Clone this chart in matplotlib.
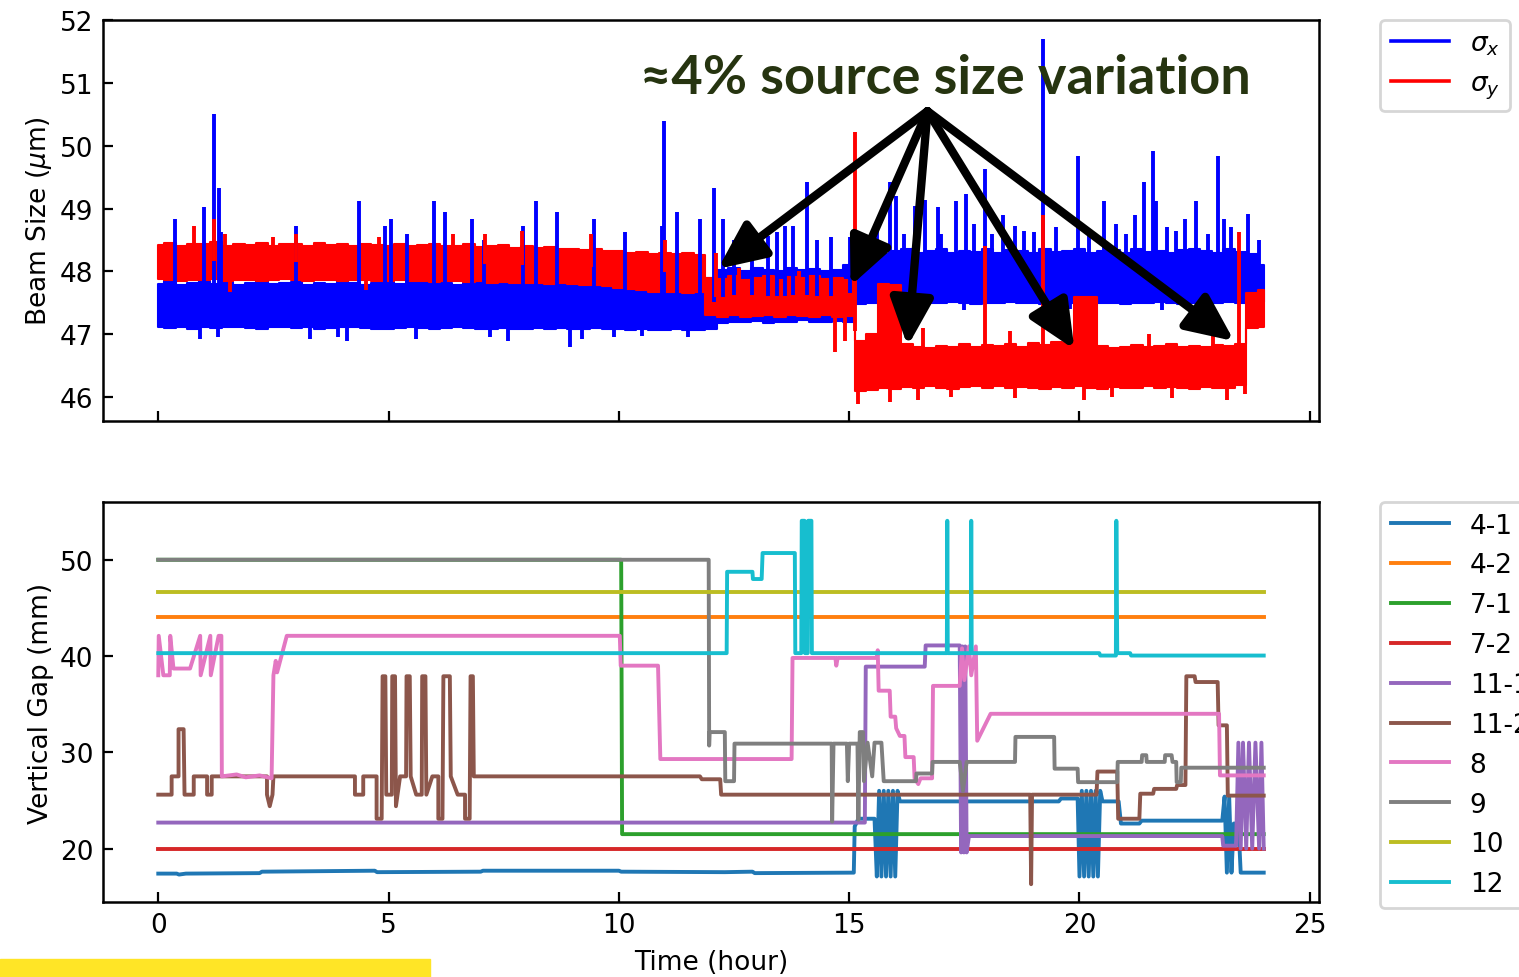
import numpy as np
import matplotlib
matplotlib.use("Agg")
import matplotlib.pyplot as plt
from matplotlib.lines import Line2D
from matplotlib.patches import Rectangle

# ---- beam size (um): envelope of the dense trace, read every 0.25 h ----
t_band = np.arange(0, 24.01, 0.25)

sx_lo = [47.12, 47.10, 47.11, 47.09, 47.12, 47.10, 47.11, 47.12, 47.10, 47.09, 47.11, 47.12,
         47.10, 47.11, 47.09, 47.10, 47.12, 47.11, 47.10, 47.09, 47.08, 47.10, 47.11, 47.10,
         47.09, 47.10, 47.11, 47.10, 47.08, 47.09, 47.10, 47.09, 47.08, 47.10, 47.09, 47.10,
         47.08, 47.09, 47.10, 47.09, 47.08, 47.07, 47.08, 47.06, 47.07, 47.08, 47.06, 47.07,
         47.08,
         47.18, 47.20, 47.19, 47.21, 47.18, 47.20, 47.19, 47.22, 47.20, 47.19, 47.21, 47.20,
         47.48, 47.50, 47.49, 47.51, 47.50, 47.48, 47.50, 47.49, 47.51, 47.50, 47.48, 47.49,
         47.50, 47.51, 47.49, 47.50, 47.48, 47.50, 47.49, 47.51, 47.50, 47.49, 47.50, 47.48,
         47.50, 47.49, 47.51, 47.50, 47.48, 47.49, 47.50, 47.49, 47.51, 47.50, 47.49, 47.52]
sx_hi = [47.80, 47.84, 47.78, 47.82, 47.85, 47.80, 47.83, 47.79, 47.82, 47.84, 47.80, 47.81,
         47.83, 47.79, 47.82, 47.80, 47.84, 47.81, 47.79, 47.82, 47.83, 47.80, 47.81, 47.84,
         47.80, 47.82, 47.79, 47.81, 47.83, 47.80, 47.82, 47.80, 47.81, 47.79, 47.82, 47.80,
         47.83, 47.81, 47.80, 47.82, 47.79, 47.80, 47.82, 47.80, 47.81, 47.79, 47.80, 47.82,
         47.90,
         48.02, 48.05, 48.00, 48.06, 48.03, 48.01, 48.05, 48.02, 48.04, 48.00, 48.03, 48.10,
         48.30, 48.35, 48.28, 48.33, 48.36, 48.30, 48.32, 48.35, 48.29, 48.33, 48.31, 48.36,
         48.30, 48.34, 48.32, 48.29, 48.35, 48.31, 48.33, 48.36, 48.30, 48.32, 48.34, 48.30,
         48.35, 48.31, 48.33, 48.29, 48.34, 48.36, 48.32, 48.30, 48.35, 48.31, 48.28, 48.10]
sy_lo = [47.88, 47.86, 47.85, 47.87, 47.86, 47.88, 47.85, 47.86, 47.87, 47.85, 47.86, 47.88,
         47.86, 47.85, 47.87, 47.86, 47.85, 47.86, 47.87, 47.85, 47.84, 47.86, 47.85, 47.84,
         47.83, 47.85, 47.84, 47.83, 47.84, 47.82, 47.83, 47.82, 47.81, 47.82, 47.80, 47.81,
         47.80, 47.78, 47.79, 47.76, 47.74, 47.72, 47.70, 47.68, 47.67, 47.68, 47.66, 47.67,
         47.30,
         47.28, 47.30, 47.27, 47.29, 47.31, 47.28, 47.30, 47.29, 47.27, 47.30, 47.28, 47.29,
         46.10, 46.12, 46.15, 46.13, 46.16, 46.14, 46.17, 46.15, 46.13, 46.16, 46.18, 46.15,
         46.17, 46.14, 46.16, 46.15, 46.13, 46.16, 46.14, 46.17, 46.15, 46.13, 46.16, 46.14,
         46.15, 46.17, 46.14, 46.16, 46.15, 46.13, 46.16, 46.14, 46.15, 46.20, 47.10, 47.12]
sy_hi = [48.42, 48.45, 48.40, 48.44, 48.43, 48.46, 48.41, 48.44, 48.42, 48.45, 48.40, 48.43,
         48.44, 48.41, 48.45, 48.42, 48.43, 48.40, 48.44, 48.42, 48.41, 48.43, 48.40, 48.42,
         48.44, 48.40, 48.41, 48.43, 48.39, 48.40, 48.42, 48.38, 48.40, 48.37, 48.39, 48.36,
         48.35, 48.34, 48.36, 48.33, 48.32, 48.30, 48.31, 48.28, 48.30, 48.27, 48.29, 48.26,
         47.90,
         47.88, 47.92, 47.86, 47.90, 47.93, 47.87, 47.91, 47.89, 47.92, 47.88, 47.90, 47.86,
         46.90, 47.00, 47.80, 47.78, 46.85, 46.80, 46.78, 46.82, 46.80, 46.85, 46.79, 46.83,
         46.81, 46.84, 46.80, 46.86, 46.83, 46.88, 46.86, 47.60, 47.60, 46.82, 46.78, 46.80,
         46.83, 46.79, 46.81, 46.84, 46.80, 46.82, 46.79, 46.83, 46.81, 46.84, 47.65, 47.70]

# isolated excursions (time in h, value in um)
sx_up_t = [0.37, 1.00, 1.21, 1.31, 1.37, 3.00, 4.36, 4.92, 5.05, 5.40, 5.99, 6.22, 6.81,
           7.07, 7.92, 8.20, 8.66, 9.46, 10.13, 10.93, 10.98, 11.26, 11.77, 12.06, 12.25,
           12.50, 12.90, 13.24, 13.43, 13.60, 13.78, 14.08, 14.30, 14.60, 15.01, 15.30, 15.60,
           15.88, 16.02, 16.20, 16.43, 16.64, 16.92, 17.00, 17.32, 17.54, 17.70, 17.94, 18.10,
           18.33, 18.59, 18.80, 19.02, 19.21, 19.50, 19.96, 20.20, 20.54, 20.80, 21.00, 21.21,
           21.40, 21.59, 21.67, 21.90, 22.10, 22.30, 22.53, 22.80, 23.00, 23.14, 23.30, 23.65,
           23.90]
sx_up_v = [48.83, 49.02, 50.50, 49.32, 48.62, 48.72, 49.12, 48.72, 48.83, 48.60, 49.12, 48.94,
           48.83, 48.50, 48.72, 49.12, 48.94, 48.83, 48.62, 48.72, 50.39, 48.94, 48.83, 49.32,
           48.83, 48.50, 48.45, 48.57, 48.62, 48.72, 48.72, 49.42, 48.50, 48.55, 48.54, 48.52,
           48.70, 49.42, 49.20, 48.60, 49.04, 49.14, 49.02, 48.60, 49.12, 49.23, 48.75, 49.63,
           48.60, 48.90, 48.72, 48.65, 48.62, 51.70, 48.70, 49.83, 48.60, 49.12, 48.75, 48.60,
           48.90, 49.42, 49.91, 49.12, 48.70, 48.65, 48.83, 49.12, 48.60, 49.83, 48.83, 48.70,
           48.91, 48.50]
sx_dn_t = [0.90, 1.30, 3.30, 3.90, 4.10, 5.60, 7.20, 7.60, 8.94, 9.20, 9.90, 10.50, 11.50,
           17.50, 19.80, 21.80, 22.60]
sx_dn_v = [46.93, 46.95, 46.92, 46.95, 46.90, 46.92, 46.95, 46.90, 46.80, 46.92, 46.95, 46.97,
           46.95, 47.38, 47.40, 47.38, 47.40]
sy_up_t = [0.77, 1.21, 1.45, 2.50, 3.00, 4.80, 6.40, 7.10, 7.90, 9.40, 11.00, 12.10, 12.60,
           13.90, 15.12, 16.60, 17.94, 18.50, 19.21, 21.50, 22.90, 23.47]
sy_up_v = [48.72, 48.83, 48.60, 48.55, 48.60, 48.55, 48.60, 48.60, 48.65, 48.60, 48.50, 48.30,
           48.05, 48.00, 50.22, 47.10, 48.40, 47.05, 48.90, 47.00, 47.00, 48.62]
sy_dn_t = [1.56, 4.50, 14.70, 14.90, 15.20, 15.88, 16.50, 17.20, 18.60, 20.10, 20.70, 22.00,
           23.20, 23.60]
sy_dn_v = [47.68, 47.70, 46.71, 46.90, 45.89, 45.92, 45.95, 46.00, 45.98, 45.95, 46.00, 45.98,
           45.96, 46.05]

# annotation: arrow origin and arrow tips (h, um)
note_text = "≈4% source size variation"
arrow_from = (16.70, 50.55)
arrow_tips = [(12.15, 48.04), (15.03, 47.77), (16.27, 46.81), (19.89, 46.76), (23.36, 46.89)]

# ---- vertical gap (mm) of each undulator, (time h, gap mm) ----
gap_labels = ["4-1", "4-2", "7-1", "7-2", "11-1", "11-2", "8", "9", "10", "12"]
gap_4_1 = [(0, 17.4), (0.4, 17.4), (0.45, 17.3), (0.6, 17.4), (2.2, 17.45), (2.25, 17.6),
           (4.7, 17.7), (4.75, 17.55), (7.0, 17.6), (7.05, 17.7), (10.0, 17.7), (10.05, 17.6),
           (12.3, 17.55), (12.9, 17.6), (12.95, 17.45), (15.1, 17.5), (15.12, 22.3), (15.2, 23.1),
           (15.55, 23.1), (15.6, 17.1), (15.65, 26.0), (15.7, 17.1), (15.75, 26.0), (15.8, 17.1),
           (15.85, 26.0), (15.9, 17.1), (15.95, 26.0), (16.0, 17.1), (16.05, 26.0), (16.1, 24.9),
           (19.55, 24.9), (19.6, 25.2), (19.96, 25.2), (20.0, 17.1), (20.05, 26.0), (20.1, 17.1),
           (20.15, 26.0), (20.2, 17.1), (20.25, 26.0), (20.3, 17.1), (20.35, 26.0), (20.4, 17.1),
           (20.45, 26.0), (20.5, 24.9), (20.85, 24.9), (20.9, 22.6), (21.3, 22.6), (21.35, 22.9),
           (23.1, 22.9), (23.15, 25.4), (23.2, 17.5), (23.25, 25.4), (23.3, 17.5), (23.35, 22.6),
           (23.45, 22.6), (23.5, 17.5), (24.0, 17.5)]
gap_4_2 = [(0, 44.1), (24, 44.1)]
gap_7_1 = [(0, 50.0), (10.05, 50.0), (10.07, 21.5), (24, 21.5)]
gap_7_2 = [(0, 20.0), (24, 20.0)]
gap_11_1 = [(0, 22.7), (15.34, 22.7), (15.36, 38.9), (16.64, 38.9), (16.66, 41.1), (17.4, 41.1),
            (17.43, 19.6), (17.46, 41.0), (17.49, 19.6), (17.52, 41.0), (17.55, 19.6),
            (17.6, 21.3), (23.1, 21.3), (23.12, 20.3), (23.4, 20.3), (23.45, 31.0), (23.5, 20.0),
            (23.55, 31.0), (23.62, 20.0), (23.68, 31.0), (23.75, 20.0), (23.82, 31.0),
            (23.9, 20.0), (23.95, 31.0), (24.0, 20.0)]
gap_11_2 = [(0, 25.6), (0.29, 25.6), (0.29, 27.5), (0.44, 27.5), (0.44, 32.4), (0.55, 32.4),
            (0.57, 25.6), (0.77, 25.6), (0.77, 27.5), (1.06, 27.5), (1.06, 25.6), (1.16, 25.6),
            (1.16, 27.5), (2.36, 27.5), (2.36, 25.6), (2.42, 24.4), (2.48, 25.6), (2.5, 27.5),
            (4.27, 27.5), (4.27, 25.6), (4.45, 25.6), (4.45, 27.5), (4.74, 27.5), (4.74, 23.1),
            (4.85, 23.1), (4.87, 37.9), (4.93, 37.9), (4.95, 25.6), (5.07, 25.6), (5.08, 37.9),
            (5.14, 37.9), (5.16, 24.4), (5.25, 27.5), (5.38, 27.5), (5.39, 37.9), (5.46, 37.9),
            (5.48, 27.5), (5.6, 25.6), (5.72, 25.6), (5.73, 37.9), (5.8, 37.9), (5.82, 25.6),
            (5.95, 27.5), (6.08, 27.5), (6.08, 23.1), (6.17, 23.1), (6.19, 37.9), (6.33, 37.9),
            (6.35, 27.5), (6.5, 25.6), (6.66, 25.6), (6.66, 23.1), (6.76, 23.1), (6.78, 37.9),
            (6.83, 37.9), (6.85, 27.5), (11.76, 27.5), (11.8, 27.2), (12.2, 27.2), (12.22, 25.6),
            (18.93, 25.6), (18.95, 16.3), (18.97, 25.6), (20.37, 25.6), (20.39, 28.0),
            (20.82, 28.0), (20.84, 23.1), (21.3, 23.1), (21.32, 25.7), (21.6, 25.7),
            (21.62, 26.2), (22.1, 26.2), (22.12, 26.6), (22.3, 26.6), (22.32, 37.9), (22.5, 37.9),
            (22.52, 37.3), (23.0, 37.3), (23.02, 32.8), (23.2, 32.8), (23.22, 25.5), (24.0, 25.5)]
gap_8 = [(0.0, 38.0), (0.01, 42.1), (0.11, 38.0), (0.25, 38.0), (0.26, 42.1), (0.33, 38.7),
         (0.69, 38.7), (0.91, 42.1), (0.92, 38.0), (1.13, 42.1), (1.14, 38.0), (1.31, 42.1),
         (1.37, 42.1), (1.38, 27.5), (1.7, 27.7), (1.9, 27.4), (2.2, 27.6), (2.46, 27.3),
         (2.5, 38.0), (2.55, 39.5), (2.58, 38.3), (2.79, 42.1), (10.02, 42.1), (10.04, 39.0),
         (10.85, 39.0), (10.9, 29.3), (13.75, 29.3), (13.77, 39.8), (14.7, 39.8), (14.72, 39.0),
         (14.75, 39.8), (15.6, 39.8), (15.62, 40.6), (15.64, 36.4), (15.88, 36.4), (15.9, 33.7),
         (16.0, 33.7), (16.02, 32.5), (16.1, 31.7), (16.2, 31.7), (16.22, 29.5), (16.4, 29.5),
         (16.42, 27.3), (16.5, 26.7), (16.55, 27.3), (16.8, 27.3), (16.82, 36.9), (17.4, 36.9),
         (17.45, 40.8), (17.5, 37.5), (17.6, 41.0), (17.65, 38.0), (17.75, 41.0), (17.78, 31.2),
         (18.07, 34.0), (23.03, 34.0), (23.05, 27.6), (24.0, 27.6)]
gap_9 = [(0, 50.0), (11.95, 50.0), (11.96, 30.7), (11.97, 32.1), (12.3, 32.1), (12.31, 27.0),
         (12.5, 27.0), (12.51, 30.9), (14.62, 30.9), (14.63, 22.8), (14.66, 30.9), (14.95, 30.9),
         (14.97, 27.0), (15.0, 30.9), (15.18, 30.9), (15.2, 23.0), (15.23, 32.1), (15.3, 32.1),
         (15.32, 27.0), (15.4, 31.0), (15.5, 27.5), (15.55, 31.0), (15.7, 31.0), (15.75, 27.0),
         (16.45, 27.0), (16.46, 27.8), (16.8, 27.8), (16.81, 29.0), (17.4, 29.0), (17.47, 26.0),
         (17.55, 29.0), (18.6, 29.0), (18.61, 31.6), (19.45, 31.6), (19.46, 28.3), (19.96, 28.3),
         (19.97, 26.9), (20.82, 26.9), (20.83, 29.0), (21.35, 29.0), (21.36, 29.7), (21.45, 29.7),
         (21.46, 29.0), (21.85, 29.0), (21.86, 29.7), (22.0, 29.7), (22.02, 29.0), (22.1, 29.0),
         (22.11, 26.9), (22.2, 26.9), (22.21, 28.4), (24.0, 28.4)]
gap_10 = [(0, 46.6), (24, 46.6)]
gap_12 = [(0, 40.3), (12.34, 40.3), (12.35, 48.75), (12.9, 48.75), (12.91, 48.0), (13.1, 48.0),
          (13.12, 50.7), (13.82, 50.7), (13.83, 40.3), (13.96, 40.3), (13.97, 54.05),
          (14.03, 54.05), (14.04, 40.3), (14.1, 40.3), (14.11, 54.05), (14.18, 54.05),
          (14.19, 40.3), (17.12, 40.3), (17.13, 54.05), (17.14, 40.3), (17.64, 40.3),
          (17.65, 54.05), (17.66, 40.3), (20.43, 40.3), (20.45, 40.05), (20.79, 40.05),
          (20.8, 54.05), (20.82, 40.3), (21.1, 40.3), (21.12, 40.05), (24, 40.05)]
gap_series = [gap_4_1, gap_4_2, gap_7_1, gap_7_2, gap_11_1, gap_11_2, gap_8, gap_9, gap_10, gap_12]

plt.rcParams["font.family"] = "DejaVu Sans"
plt.rcParams["font.size"] = 19
plt.rcParams["axes.linewidth"] = 1.8
for ax_name in ["xtick", "ytick"]:
    plt.rcParams[ax_name + ".direction"] = "in"
    plt.rcParams[ax_name + ".major.size"] = 7
    plt.rcParams[ax_name + ".major.width"] = 1.6
    plt.rcParams[ax_name + ".major.pad"] = 7

W, H = 1519, 978
fig = plt.figure(figsize=(W / 100, H / 100), dpi=100)
ax1 = fig.add_axes([103 / W, 1 - 422 / H, 1216 / W, 401 / H])
ax2 = fig.add_axes([103 / W, 1 - 903 / H, 1216 / W, 400 / H])

lw = 2.8


def draw_band(ax, lo, hi, up_t, up_v, dn_t, dn_v, color):
    lo = np.array(lo)
    hi = np.array(hi)
    mid = (lo + hi) / 2
    ax.fill_between(t_band, lo, hi, step="mid", color=color, lw=1.5)
    ax.vlines(up_t, np.interp(up_t, t_band, mid), up_v, color=color, lw=lw)
    ax.vlines(dn_t, dn_v, np.interp(dn_t, t_band, mid), color=color, lw=lw)


draw_band(ax1, sx_lo, sx_hi, sx_up_t, sx_up_v, sx_dn_t, sx_dn_v, "blue")
draw_band(ax1, sy_lo, sy_hi, sy_up_t, sy_up_v, sy_dn_t, sy_dn_v, "red")

for tip in arrow_tips:
    ax1.annotate("", xy=tip, xytext=arrow_from,
                 arrowprops=dict(arrowstyle="-|>,head_length=1.1,head_width=0.5",
                                 mutation_scale=26, lw=6, color="black",
                                 shrinkA=0, shrinkB=0))
ax1.text(17.09, 51.09, note_text, ha="center", va="center", fontsize=39,
         fontweight="bold", color="#263410", family=["Lato", "DejaVu Sans"])

ax1.set_xlim(-1.2, 25.2)
ax1.set_ylim(45.62, 52.0)
ax1.set_xticks([0, 5, 10, 15, 20, 25])
ax1.set_xticklabels([])
ax1.set_yticks([46, 47, 48, 49, 50, 51, 52])
ax1.set_ylabel(r"Beam Size ($\mu$m)")

handles = [Line2D([], [], color="blue", lw=2.6), Line2D([], [], color="red", lw=2.6)]
leg1 = ax1.legend(handles, [r"$\sigma_x$", r"$\sigma_y$"], loc="upper left",
                  bbox_to_anchor=(1 + 61 / 1216, 1.0), borderaxespad=0, fontsize=19,
                  handlelength=2.2, labelspacing=0.5)
leg1.get_frame().set_linewidth(2)

for pts, name in zip(gap_series, gap_labels):
    arr = np.array(pts)
    ax2.plot(arr[:, 0], arr[:, 1], lw=lw, label=name)

ax2.set_xlim(-1.2, 25.2)
ax2.set_ylim(14.45, 56.0)
ax2.set_xticks([0, 5, 10, 15, 20, 25])
ax2.set_yticks([20, 30, 40, 50])
ax2.set_xlabel("Time (hour)", labelpad=8)
ax2.set_ylabel("Vertical Gap (mm)")
leg2 = ax2.legend(loc="upper left", bbox_to_anchor=(1 + 61 / 1216, 1.0), borderaxespad=0,
                  fontsize=19, handlelength=2.2, labelspacing=0.525)
leg2.get_frame().set_linewidth(2)

fig.patches.append(Rectangle((0, 0), 430 / W, 18 / H, transform=fig.transFigure,
                             color="#ffe526", zorder=5))

fig.savefig("out.png", dpi=100)
